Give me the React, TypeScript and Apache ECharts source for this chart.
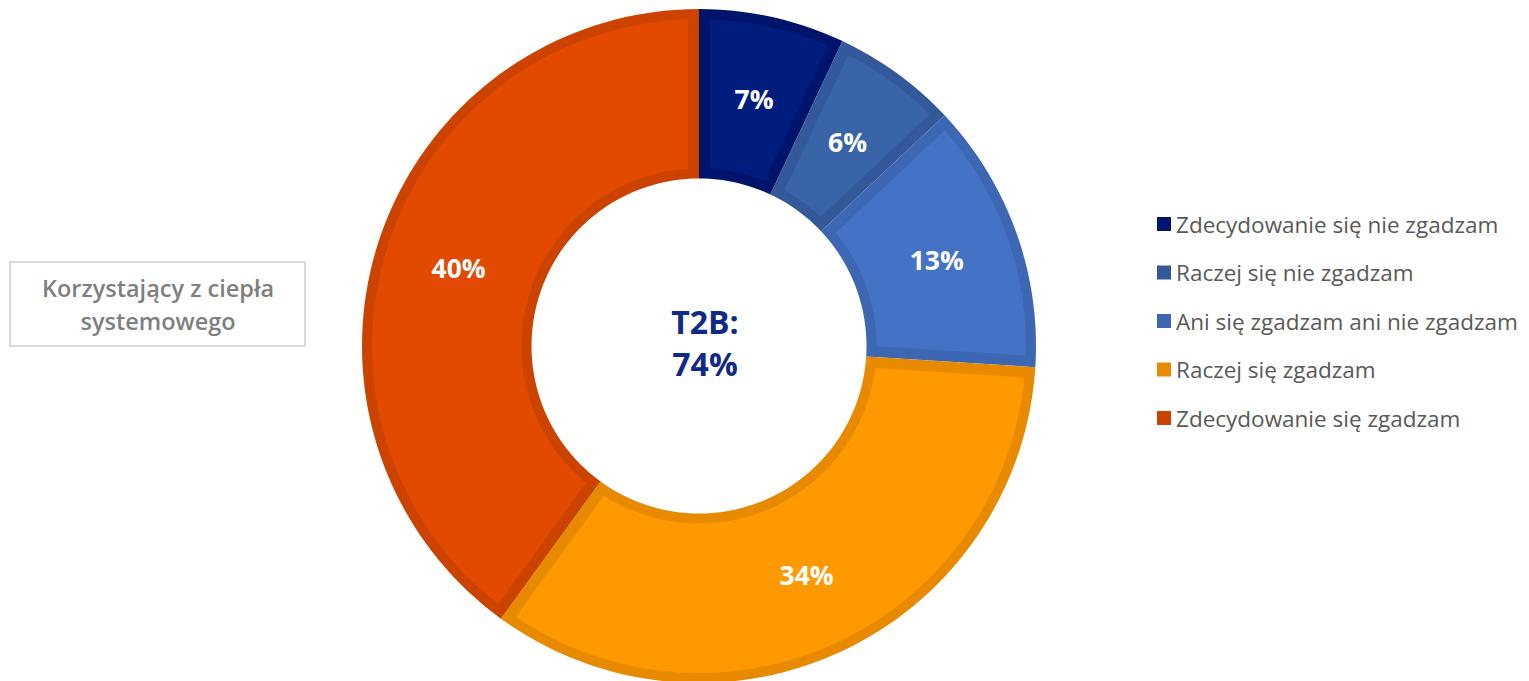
import React, { useEffect, useRef } from 'react';
import * as echarts from 'echarts';

const categories = [
  'Zdecydowanie się nie zgadzam',
  'Raczej się nie zgadzam',
  'Ani się zgadzam ani nie zgadzam',
  'Raczej się zgadzam',
  'Zdecydowanie się zgadzam',
];
const values = [7, 6, 13, 34, 40];
const fillColors = ['#001C7C', '#3A64A8', '#4472C4', '#FF9900', '#E24A00'];
const borderColors = ['#00146C', '#34599A', '#3D67B2', '#E88A00', '#CC4300'];
const centerLines = ['T2B:', '74%'];
const groupLabel = ['Korzystający z ciepła', 'systemowego'];

export default function App() {
  const ref = useRef<HTMLDivElement>(null);
  useEffect(() => {
    const chart = echarts.init(ref.current!, null, { renderer: 'svg' });
    const total = values.reduce((a, b) => a + b, 0);
    const starts: number[] = [];
    let acc = 0;
    values.forEach((v) => {
      starts.push(acc);
      acc += v;
    });
    const INNER = 0.497;
    const BR = 10;
    const BS = 11;
    const LABEL_R = 0.75;

    const makeRender = (i: number) => (params: any, api: any) => {
      const s = api.value(0);
      const e = api.value(1);
      const c = api.coord([0, 0]);
      const o = api.coord([1, 0]);
      const R = Math.hypot(o[0] - c[0], o[1] - c[1]);
      const arc = (rho: number, a0: number, a1: number) => {
        const n = Math.max(8, Math.ceil(Math.abs(a1 - a0) * 2));
        const pts: number[][] = [];
        for (let k = 0; k <= n; k++) {
          const a = a0 + ((a1 - a0) * k) / n;
          pts.push(api.coord([rho, a]));
        }
        return pts;
      };
      const outerPts = arc(1, s, e).concat(arc(INNER, e, s));
      const ro = 1 - BR / R;
      const ri = INNER + BR / R;
      const dO = (Math.asin(BS / (ro * R)) / (2 * Math.PI)) * total;
      const dI = (Math.asin(BS / (ri * R)) / (2 * Math.PI)) * total;
      const innerPts = arc(ro, s + dO, e - dO).concat(arc(ri, e - dI, s + dI));
      const lp = api.coord([LABEL_R, (s + e) / 2]);
      return {
        type: 'group',
        children: [
          { type: 'polygon', shape: { points: outerPts }, style: { fill: borderColors[i] } },
          { type: 'polygon', shape: { points: innerPts }, style: { fill: fillColors[i] } },
          {
            type: 'text',
            style: {
              text: values[i] + '%',
              x: lp[0],
              y: lp[1],
              align: 'center',
              verticalAlign: 'middle',
              fill: '#FFFFFF',
              fontSize: 26.5,
              fontWeight: 'bold',
              fontFamily: 'Open Sans',
            },
          },
        ],
      };
    };

    chart.setOption({
      animation: false,
      polar: { center: [699, 346], radius: [0, 337] },
      angleAxis: { type: 'value', min: 0, max: total, startAngle: 90, clockwise: true, show: false },
      radiusAxis: { type: 'value', min: 0, max: 1, show: false },
      legend: {
        data: categories,
        orient: 'vertical',
        left: 1152,
        top: 207,
        itemWidth: 14,
        itemHeight: 14,
        itemGap: 24.5,
        icon: 'rect',
        selectedMode: false,
        textStyle: { fontSize: 22.5, lineHeight: 24, color: '#595959', fontFamily: 'Open Sans' },
      },
      series: categories.map((name, i) => ({
        type: 'custom',
        name,
        coordinateSystem: 'polar',
        itemStyle: { color: borderColors[i] },
        data: [[starts[i], starts[i] + values[i]]],
        renderItem: makeRender(i),
      })),
      graphic: [
        {
          type: 'rect',
          shape: { x: 10, y: 262, width: 295, height: 84 },
          style: { fill: '#FFFFFF', stroke: '#D9D9D9', lineWidth: 2 },
        },
        ...groupLabel.map((t, k) => ({
          type: 'text',
          x: 158,
          y: 288 + k * 33,
          style: {
            text: t,
            align: 'center',
            verticalAlign: 'middle',
            fill: '#7F7F7F',
            fontSize: 23.5,
            fontWeight: 600,
            fontFamily: 'Open Sans',
          },
        })),
        ...centerLines.map((t, k) => ({
          type: 'text',
          x: 705,
          y: 321 + k * 42,
          style: {
            text: t,
            align: 'center',
            verticalAlign: 'middle',
            fill: '#102A86',
            fontSize: 32,
            fontWeight: 'bold',
            fontFamily: 'Open Sans',
          },
        })),
      ],
    });
    return () => chart.dispose();
  }, []);
  return (
    <div
      ref={ref}
      style={{ position: 'absolute', left: 0, top: 0, width: 1529, height: 681 }}
    />
  );
}
